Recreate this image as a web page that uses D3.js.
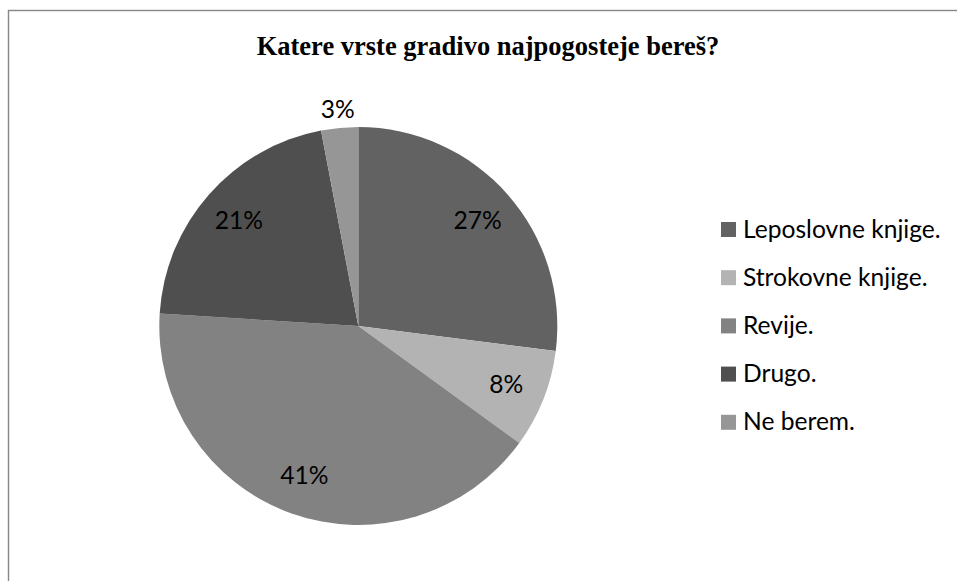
<!DOCTYPE html>
<html>
<head>
<meta charset="utf-8">
<script src="https://cdn.jsdelivr.net/npm/d3@7"></script>
<style>
  body { margin: 0; background: #fff; }
  svg { display: block; }
</style>
</head>
<body>
<svg id="chart"></svg>
<script>
// data
var categories = ["Leposlovne knjige.", "Strokovne knjige.", "Revije.", "Drugo.", "Ne berem."];
var shares = [27, 8, 41, 21, 3];
var colors = ["#626262", "#b3b3b3", "#828282", "#4f4f4f", "#969696"];
var title = "Katere vrste gradivo najpogosteje bereš?";

var W = 957, H = 581;
var svg = d3.select("#chart").attr("width", W).attr("height", H);

// chart area frame (only top and left edges show)
svg.append("rect")
    .attr("x", 8.5).attr("y", 10.5)
    .attr("width", 1000).attr("height", 700)
    .attr("fill", "none")
    .attr("stroke", "#878787")
    .attr("stroke-width", 1.4);

svg.append("text")
    .attr("x", 488).attr("y", 55)
    .attr("text-anchor", "middle")
    .style("font-family", "'Liberation Serif', 'Times New Roman', serif")
    .style("font-weight", "bold")
    .style("font-size", "26.5px")
    .text(title);

var cx = 358.3, cy = 326, R = 199;

var data = categories.map(function(c, i) { return {name: c, value: shares[i], color: colors[i]}; });

var pie = d3.pie().sort(null).value(function(d) { return d.value; });
var arc = d3.arc().innerRadius(0).outerRadius(R);
var labelArc = d3.arc().innerRadius(R * 0.8).outerRadius(R * 0.8);
var outerArc = d3.arc().innerRadius(R + 19).outerRadius(R + 19);

var g = svg.append("g").attr("transform", "translate(" + cx + "," + cy + ")");
var arcs = pie(data);

g.selectAll(".slice")
    .data(arcs)
    .enter().append("path")
    .attr("class", "slice")
    .attr("d", arc)
    .attr("fill", function(d) { return d.data.color; });

var total = d3.sum(shares);
g.selectAll(".lbl")
    .data(arcs)
    .enter().append("text")
    .attr("class", "lbl")
    .attr("transform", function(d) {
        var c = d.data.value / total < 0.05 ? outerArc.centroid(d) : labelArc.centroid(d);
        return "translate(" + c + ")";
    })
    .attr("dy", "0.35em")
    .attr("text-anchor", "middle")
    .style("font-family", "Lato, 'Open Sans', sans-serif")
    .style("font-size", "24.6px")
    .style("fill", "#000")
    .text(function(d) { return Math.round(d.data.value / total * 100) + "%"; });

// legend
var legend = svg.append("g").attr("transform", "translate(721,229.5)");
var row = legend.selectAll(".row")
    .data(data)
    .enter().append("g")
    .attr("class", "row")
    .attr("transform", function(d, i) { return "translate(0," + (i * 48.2) + ")"; });

row.append("rect")
    .attr("x", 0).attr("y", -7.5)
    .attr("width", 15).attr("height", 15)
    .attr("fill", function(d) { return d.color; });

row.append("text")
    .attr("x", 22).attr("y", 8)
    .style("font-family", "Lato, 'Open Sans', sans-serif")
    .style("font-size", "24.6px")
    .style("fill", "#000")
    .text(function(d) { return d.name; });
</script>
</body>
</html>
